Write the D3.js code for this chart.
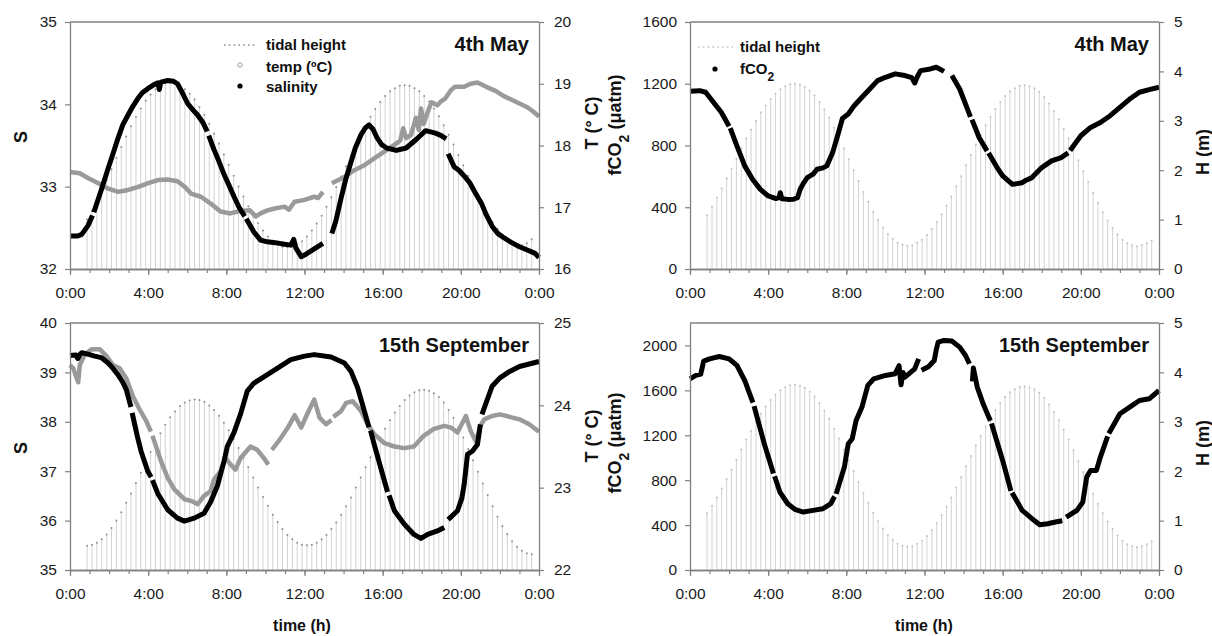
<!DOCTYPE html>
<html>
<head>
<meta charset="utf-8">
<script src="https://cdn.jsdelivr.net/npm/d3@7"></script>
<style>
  body { margin: 0; background: #fff; }
  svg { font-family: "Liberation Sans", Arial, sans-serif; }
</style>
</head>
<body>
<svg id="chart" width="1212" height="636"></svg>
<script>
// ---- time axis ----
const hourMajor = [0, 4, 8, 12, 16, 20, 24];
const hourMinor = d3.range(0, 25);

// tidal height (m), one value every 15 min starting 0:52
const tideStart = 0.875;
const tideStep = 0.25;

const tideMaySal = [1.00,1.18,1.37,1.58,1.80,2.02,2.25,2.47,2.68,2.89,3.08,3.25,3.41,3.53,3.64,3.71,3.76,3.77,
  3.76,3.71,3.64,3.55,3.43,3.28,3.12,2.94,2.74,2.54,2.32,2.11,1.89,1.67,1.47,1.27,1.09,0.93,0.78,0.66,0.57,0.50,0.45,0.44,
  0.45,0.50,0.56,0.66,0.78,0.92,1.08,1.26,1.45,1.66,1.87,2.08,2.29,2.50,2.71,2.90,3.08,3.24,3.38,3.50,3.60,3.66,3.71,3.72,
  3.71,3.66,3.60,3.50,3.39,3.25,3.09,2.91,2.72,2.52,2.31,2.10,1.89,1.68,1.48,1.29,1.11,0.95,0.81,0.70,0.60,0.54,0.49,0.48,
  0.52,0.60];

const tideMayFco2 = [1.09,1.26,1.44,1.63,1.83,2.03,2.23,2.44,2.64,2.82,3.00,3.17,3.31,3.44,3.55,3.64,3.70,3.74,3.75,
  3.73,3.69,3.61,3.51,3.38,3.23,3.06,2.86,2.66,2.44,2.22,2.00,1.78,1.56,1.36,1.16,0.99,0.84,0.71,0.61,0.53,0.49,0.47,
  0.48,0.53,0.59,0.69,0.81,0.95,1.11,1.28,1.47,1.67,1.88,2.10,2.31,2.52,2.72,2.91,3.08,3.24,3.38,3.50,3.60,3.66,3.71,3.72,
  3.70,3.66,3.59,3.48,3.35,3.20,3.03,2.84,2.64,2.42,2.20,1.98,1.76,1.54,1.34,1.15,0.98,0.83,0.70,0.59,0.52,0.48,0.46,
  0.48,0.52,0.57];

const tideSepSal = [0.49,0.51,0.55,0.62,0.72,0.85,1.00,1.17,1.36,1.55,1.76,1.97,2.18,2.39,2.58,2.77,2.94,3.09,3.21,3.32,3.39,3.43,3.45,
  3.44,3.40,3.33,3.24,3.12,2.98,2.83,2.65,2.47,2.27,2.08,1.87,1.67,1.48,1.30,1.12,0.97,0.83,0.71,0.62,0.55,0.51,0.50,
  0.51,0.55,0.62,0.71,0.83,0.96,1.12,1.29,1.47,1.67,1.87,2.08,2.28,2.48,2.68,2.86,3.03,3.19,3.32,3.44,3.53,3.60,3.64,3.65,
  3.63,3.58,3.50,3.39,3.24,3.08,2.89,2.68,2.45,2.22,1.99,1.75,1.52,1.29,1.08,0.89,0.73,0.58,0.47,0.39,0.34,0.32];

const tideSepFco2 = [1.15,1.30,1.47,1.65,1.84,2.03,2.23,2.44,2.64,2.82,3.00,3.17,3.31,3.44,3.55,3.64,3.70,3.74,3.75,
  3.73,3.69,3.61,3.51,3.38,3.23,3.06,2.86,2.66,2.44,2.22,2.00,1.78,1.56,1.36,1.16,0.99,0.84,0.71,0.61,0.53,0.49,0.47,
  0.48,0.53,0.59,0.69,0.81,0.95,1.11,1.28,1.47,1.67,1.88,2.10,2.31,2.52,2.72,2.91,3.08,3.24,3.38,3.50,3.60,3.66,3.71,3.72,
  3.70,3.66,3.59,3.48,3.35,3.20,3.03,2.84,2.64,2.42,2.20,1.98,1.76,1.54,1.34,1.15,0.98,0.83,0.70,0.59,0.52,0.48,0.46,
  0.48,0.52,0.58];

// [hour, value], null = gap in the record
const salinityMay = [[0,32.40],[0.4,32.40],[0.6,32.42],[0.93,32.53],[1.15,32.65],[1.18,null],[1.22,32.69],[1.6,32.96],
  [1.95,33.22],[2.2,33.40],[2.46,33.59],[2.7,33.75],[2.97,33.87],[3.2,33.97],[3.47,34.07],[3.7,34.14],[3.98,34.19],
  [4.3,34.24],[4.5,34.26],[4.57,34.18],[4.65,34.27],[5.0,34.29],[5.3,34.28],[5.5,34.25],[5.75,34.14],[6.02,34.01],
  [6.3,33.93],[6.53,33.87],[6.8,33.78],[7.02,33.67],[7.06,null],[7.1,33.62],[7.37,33.45],[7.6,33.32],[7.88,33.15],
  [8.15,33.01],[8.39,32.88],[8.65,32.75],[8.94,32.64],[8.98,null],[9.02,32.61],[9.41,32.45],[9.75,32.35],[10.1,32.33],
  [10.5,32.32],[10.98,32.30],[11.3,32.29],[11.45,32.36],[11.55,32.26],[11.83,32.15],[12.0,32.17],[12.34,32.22],
  [12.6,32.26],[12.94,32.31],[13.15,null],[13.4,32.43],[13.6,32.58],[13.87,32.86],[14.1,33.08],[14.38,33.30],
  [14.6,33.47],[14.89,33.63],[15.1,33.71],[15.3,33.75],[15.5,33.70],[15.7,33.60],[15.95,33.51],[16.2,33.47],
  [16.7,33.44],[17.2,33.47],[17.7,33.57],[18.2,33.68],[18.7,33.65],[19.0,33.62],[19.25,33.58],[19.3,null],
  [19.35,33.40],[19.66,33.24],[19.9,33.20],[20.17,33.13],[20.45,33.05],[20.68,32.95],[20.9,32.86],[21.05,32.80],
  [21.3,32.66],[21.6,32.52],[21.9,32.43],[22.2,32.38],[22.6,32.32],[23.0,32.27],[23.4,32.23],[23.8,32.19],[24,32.14]];

const tempMay = [[0,17.57],[0.5,17.55],[0.94,17.47],[1.45,17.39],[1.96,17.30],[2.47,17.25],[2.98,17.28],[3.49,17.33],
  [4.0,17.39],[4.5,17.44],[5.0,17.45],[5.5,17.42],[5.88,17.33],[6.2,17.22],[6.7,17.17],[7.2,17.06],[7.7,16.93],
  [8.2,16.90],[8.7,16.94],[9.2,16.95],[9.5,16.85],[9.75,16.90],[10.1,16.95],[10.47,16.98],[10.98,17.01],[11.2,16.96],
  [11.5,17.09],[12.0,17.12],[12.5,17.17],[12.7,17.15],[12.94,17.25],[13.15,null],[13.4,17.39],[14.04,17.49],
  [14.55,17.60],[15.06,17.68],[15.57,17.79],[16.08,17.90],[16.6,18.01],[16.9,18.08],[17.05,18.28],[17.2,18.12],
  [17.45,18.17],[17.7,18.45],[17.85,18.25],[17.96,18.60],[18.1,18.35],[18.3,18.54],[18.5,18.70],[18.8,18.65],
  [19.0,18.72],[19.2,18.76],[19.5,18.90],[19.7,18.95],[20.17,18.95],[20.5,19.00],[20.85,19.02],[21.3,18.95],
  [21.8,18.88],[22.2,18.80],[22.6,18.74],[23.0,18.68],[23.4,18.62],[23.7,18.55],[24,18.47]];

const fco2May = [[0,1151],[0.5,1155],[0.8,1145],[1.2,1080],[1.6,1015],[2.0,925],[2.03,null],[2.06,912],[2.4,798],
  [2.8,668],[3.2,581],[3.6,516],[4.0,473],[4.4,456],[4.55,462],[4.62,494],[4.7,455],[5.0,451],[5.3,452],[5.5,462],
  [5.65,520],[5.8,555],[6.0,592],[6.3,615],[6.5,646],[6.8,655],[7.0,668],[7.3,754],[7.6,884],[7.8,975],[8.1,1004],
  [8.4,1058],[8.8,1112],[9.2,1166],[9.6,1220],[10.0,1242],[10.5,1264],[11.0,1253],[11.35,1240],[11.5,1205],
  [11.65,1250],[11.8,1285],[12.3,1296],[12.6,1307],[13.0,1280],[13.2,null],[13.4,1253],[13.8,1166],[14.2,1036],
  [14.35,985],[14.39,null],[14.43,968],[14.8,850],[15.2,765],[15.24,null],[15.28,752],[15.7,660],[16.0,603],
  [16.5,548],[17.0,559],[17.2,575],[17.5,592],[18.0,657],[18.5,700],[19.0,722],[19.35,752],[19.4,null],
  [19.45,768],[20.0,863],[20.5,917],[21.0,949],[21.5,993],[22.0,1047],[22.5,1101],[23.0,1145],[23.5,1162],[24,1177]];

const salinitySep = [[0,39.34],[0.3,39.35],[0.4,39.28],[0.5,39.36],[0.6,39.40],[1.0,39.36],[1.27,39.33],[1.6,39.30],
  [1.95,39.19],[2.2,39.08],[2.46,38.95],[2.7,38.80],[2.88,38.65],[3.12,38.30],[3.15,null],[3.18,38.18],[3.45,37.70],
  [3.64,37.40],[3.98,37.00],[4.15,36.88],[4.18,null],[4.22,36.82],[4.49,36.55],[5.0,36.22],[5.5,36.05],[5.85,35.99],
  [6.36,36.05],[6.86,36.15],[7.2,36.38],[7.54,36.70],[7.88,37.20],[8.05,37.50],[8.39,37.78],[8.73,38.16],
  [9.07,38.62],[9.4,38.78],[9.96,38.92],[10.64,39.09],[11.3,39.26],[12.0,39.33],[12.5,39.36],[13.36,39.31],
  [14.04,39.19],[14.38,39.02],[14.72,38.69],[15.06,38.22],[15.3,37.89],[15.34,null],[15.38,37.82],[15.57,37.54],
  [15.9,37.07],[16.25,36.58],[16.29,null],[16.33,36.51],[16.6,36.20],[17.1,35.93],[17.6,35.72],[17.96,35.64],
  [18.3,35.72],[18.8,35.79],[19.15,35.86],[19.25,null],[19.35,36.02],[19.83,36.20],[20.05,36.45],[20.17,36.73],
  [20.34,37.34],[20.6,37.41],[20.85,37.54],[21.0,37.95],[21.04,null],[21.08,38.15],[21.6,38.72],[22.0,38.89],
  [22.5,39.02],[23.0,39.12],[23.5,39.17],[24,39.22]];

const tempSep = [[0,24.49],[0.17,24.45],[0.34,24.33],[0.42,24.28],[0.5,24.49],[0.76,24.62],[1.1,24.68],[1.53,24.68],
  [1.86,24.60],[2.2,24.49],[2.54,24.45],[2.88,24.33],[3.22,24.11],[3.56,23.95],[3.9,23.81],[4.14,23.68],[4.18,null],
  [4.22,23.63],[4.66,23.32],[5.0,23.12],[5.34,22.98],[5.85,22.86],[6.19,22.84],[6.53,22.80],[6.86,22.90],[7.2,22.96],
  [7.37,23.10],[7.71,23.20],[7.97,23.36],[8.22,23.28],[8.47,23.22],[8.73,23.36],[9.24,23.50],[9.58,23.46],
  [9.92,23.36],[10.15,23.28],[10.24,null],[10.33,23.46],[10.72,23.58],[11.15,23.73],[11.5,23.88],[11.83,23.73],
  [12.17,23.91],[12.5,24.07],[12.77,23.85],[13.1,23.77],[13.38,23.82],[13.43,null],[13.48,23.86],[13.87,23.93],
  [14.13,24.03],[14.47,24.05],[14.89,23.93],[15.23,23.77],[15.57,23.65],[16.09,23.54],[16.6,23.50],[17.1,23.48],
  [17.6,23.50],[18.1,23.63],[18.6,23.71],[19.15,23.75],[19.5,23.73],[19.83,23.67],[20.26,23.87],[20.5,23.69],
  [20.77,23.56],[21.0,23.75],[21.2,23.83],[21.6,23.87],[22.0,23.89],[22.5,23.86],[23.0,23.83],[23.5,23.77],[24,23.68]];

const fco2Sep = [[0,1703],[0.3,1733],[0.55,1745],[0.7,1860],[1.0,1881],[1.5,1902],[2.0,1881],[2.4,1822],[2.8,1688],
  [3.22,1490],[3.25,null],[3.28,1460],[3.8,1125],[4.27,860],[4.3,null],[4.33,835],[4.6,694],[5.0,590],[5.4,537],
  [5.8,516],[6.3,531],[6.8,546],[7.2,590],[7.4,655],[7.44,null],[7.48,678],[7.9,917],[8.1,1125],[8.3,1169],
  [8.5,1332],[8.8,1451],[9.1,1644],[9.4,1703],[10.0,1733],[10.5,1748],[10.7,1820],[10.8,1650],[10.9,1760],
  [11.0,1718],[11.5,1792],[11.7,1880],[11.78,null],[11.85,1780],[12.2,1810],[12.5,1866],[12.6,1960],[12.7,2030],
  [13.0,2045],[13.4,2040],[13.8,1985],[14.1,1911],[14.3,1837],[14.37,null],[14.45,1680],[14.5,1800],[14.7,1629],
  [15.0,1481],[15.37,1330],[15.4,null],[15.43,1305],[16.0,976],[16.42,705],[16.45,null],[16.48,688],[17.0,531],
  [17.5,457],[17.9,404],[18.3,412],[18.7,427],[19.05,438],[19.15,null],[19.25,470],[19.8,531],[20.1,605],[20.3,828],
  [20.5,887],[20.8,887],[21.0,1006],[21.37,1190],[21.4,null],[21.43,1215],[22.0,1392],[22.5,1451],[23.0,1510],
  [23.5,1525],[24,1599]];

const axisGrey = "#808080";
const svg = d3.select("#chart");

const panels = [
  { left: 70, right: 539, top: 22, bottom: 269,
    leftDomain: [32, 35], leftTicks: [32, 33, 34, 35],
    rightDomain: [16, 20], rightTicks: [16, 17, 18, 19, 20],
    tide: tideMaySal, dotColor: "#8f8f8f",
    series: [{ data: tempMay, axis: "right", color: "#9a9a9a", width: 4.5 },
             { data: salinityMay, axis: "left", color: "#000", width: 5 }],
    title: "4th May", leftTitle: ["S"], leftTitleX: 21, leftTitleY: 137,
    rightTitle: "T (° C)", rightTitleX: 592, rightTitleY: 123, timeLabel: false },
  { left: 690, right: 1159, top: 22, bottom: 269,
    leftDomain: [0, 1600], leftTicks: [0, 400, 800, 1200, 1600],
    rightDomain: [0, 5], rightTicks: [0, 1, 2, 3, 4, 5],
    tide: tideMayFco2, dotColor: "#c2c2c2",
    series: [{ data: fco2May, axis: "left", color: "#000", width: 5 }],
    title: "4th May", leftTitle: "fco2", leftTitleX: 615, leftTitleY: 125,
    rightTitle: "H (m)", rightTitleX: 1203, rightTitleY: 152, timeLabel: false },
  { left: 70, right: 539, top: 323, bottom: 570,
    leftDomain: [35, 40], leftTicks: [35, 36, 37, 38, 39, 40],
    rightDomain: [22, 25], rightTicks: [22, 23, 24, 25],
    tide: tideSepSal, dotColor: "#8f8f8f",
    series: [{ data: tempSep, axis: "right", color: "#9a9a9a", width: 4.5 },
             { data: salinitySep, axis: "left", color: "#000", width: 5 }],
    title: "15th September", leftTitle: ["S"], leftTitleX: 21, leftTitleY: 448,
    rightTitle: "T (° C)", rightTitleX: 592, rightTitleY: 436, timeLabel: true, timeX: 302 },
  { left: 690, right: 1159, top: 323, bottom: 570,
    leftDomain: [0, 2200], leftTicks: [0, 400, 800, 1200, 1600, 2000],
    rightDomain: [0, 5], rightTicks: [0, 1, 2, 3, 4, 5],
    tide: tideSepFco2, dotColor: "#c2c2c2",
    series: [{ data: fco2Sep, axis: "left", color: "#000", width: 5 }],
    title: "15th September", leftTitle: "fco2", leftTitleX: 615, leftTitleY: 443,
    rightTitle: "H (m)", rightTitleX: 1203, rightTitleY: 443, timeLabel: true, timeX: 924 }
];

function styleAxis(sel) {
  sel.attr("font-size", 15.5).attr("font-family", '"Liberation Sans", Arial, sans-serif');
  sel.selectAll("path.domain").attr("stroke", axisGrey).attr("stroke-width", 1.3);
  sel.selectAll(".tick line").attr("stroke", axisGrey).attr("stroke-width", 1.2);
  sel.selectAll(".tick text").attr("fill", "#1a1a1a");
}

function makePanel(p) {
  const x = d3.scaleLinear().domain([0, 24]).range([p.left, p.right]);
  const yL = d3.scaleLinear().domain(p.leftDomain).range([p.bottom, p.top]);
  const yR = d3.scaleLinear().domain(p.rightDomain).range([p.bottom, p.top]);
  // tidal height always on a 0-5 m scale (shown on the right only for fCO2)
  const yH = d3.scaleLinear().domain([0, 5]).range([p.bottom, p.top]);

  const g = svg.append("g");

  const tide = p.tide.map((h, i) => [tideStart + i * tideStep, h]);
  g.append("g").selectAll("line").data(tide).join("line")
    .attr("x1", d => x(d[0])).attr("x2", d => x(d[0]))
    .attr("y1", d => yH(d[1])).attr("y2", p.bottom)
    .attr("stroke", "#d2d2d2").attr("stroke-width", 1);
  g.append("g").selectAll("circle").data(tide).join("circle")
    .attr("cx", d => x(d[0])).attr("cy", d => yH(d[1]))
    .attr("r", 1).attr("fill", p.dotColor);

  p.series.forEach(s => {
    const yScale = s.axis === "right" ? yR : yL;
    const line = d3.line()
      .defined(d => d[1] !== null)
      .x(d => x(d[0]))
      .y(d => yScale(d[1]));
    g.append("path").datum(s.data)
      .attr("d", line)
      .attr("fill", "none")
      .attr("stroke", s.color)
      .attr("stroke-width", s.width)
      .attr("stroke-linejoin", "round");
  });

  // frame top
  g.append("line")
    .attr("x1", p.left).attr("x2", p.right)
    .attr("y1", p.top).attr("y2", p.top)
    .attr("stroke", axisGrey).attr("stroke-width", 1.3);

  g.append("g")
    .attr("transform", `translate(${p.left},0)`)
    .call(d3.axisLeft(yL).tickValues(p.leftTicks).tickSize(5).tickSizeOuter(0).tickPadding(8).tickFormat(d3.format("d")))
    .call(styleAxis);

  g.append("g")
    .attr("transform", `translate(${p.right},0)`)
    .call(d3.axisRight(yR).tickValues(p.rightTicks).tickSize(5).tickSizeOuter(0).tickPadding(10).tickFormat(d3.format("d")))
    .call(styleAxis);

  g.append("g")
    .attr("transform", `translate(0,${p.bottom})`)
    .call(d3.axisBottom(x).tickValues(hourMinor).tickSize(4).tickSizeOuter(0).tickFormat(""))
    .call(styleAxis);

  g.append("g")
    .attr("transform", `translate(0,${p.bottom})`)
    .call(d3.axisBottom(x).tickValues(hourMajor).tickSize(6).tickSizeOuter(0).tickPadding(12)
      .tickFormat(d => (d % 24) + ":00"))
    .call(styleAxis);

  // date title
  g.append("text")
    .attr("x", p.right - 10).attr("y", p.top + 29)
    .attr("text-anchor", "end")
    .attr("font-size", 20).attr("font-weight", "bold")
    .attr("fill", "#111")
    .text(p.title);

  // left axis title
  const lt = g.append("text")
    .attr("transform", `translate(${p.leftTitleX},${p.leftTitleY}) rotate(-90)`)
    .attr("text-anchor", "middle").attr("dy", "0.35em")
    .attr("font-size", 18).attr("font-weight", "bold").attr("fill", "#111");
  if (p.leftTitle === "fco2") {
    lt.append("tspan").text("fCO");
    lt.append("tspan").attr("baseline-shift", "sub").attr("font-size", 14).text("2");
    lt.append("tspan").text(" (μatm)");
  } else {
    lt.text(p.leftTitle[0]);
  }

  g.append("text")
    .attr("transform", `translate(${p.rightTitleX},${p.rightTitleY}) rotate(-90)`)
    .attr("text-anchor", "middle").attr("dy", "0.35em")
    .attr("font-size", 18).attr("font-weight", "bold").attr("fill", "#111")
    .text(p.rightTitle);

  if (p.timeLabel) {
    g.append("text")
      .attr("x", p.timeX).attr("y", 631)
      .attr("text-anchor", "middle")
      .attr("font-size", 16).attr("font-weight", "bold").attr("fill", "#111")
      .text("time (h)");
  }
}

panels.forEach(makePanel);

// legends
function legendText(x, y, parts) {
  const t = svg.append("text").attr("x", x).attr("y", y)
    .attr("font-size", 15).attr("font-weight", "bold").attr("fill", "#111");
  parts.forEach(pt => {
    const ts = t.append("tspan").text(pt.text);
    if (pt.sub) ts.attr("baseline-shift", "sub").attr("font-size", 12);
  });
}

// top-left legend
svg.append("line").attr("x1", 224).attr("x2", 256).attr("y1", 45).attr("y2", 45)
  .attr("stroke", "#8f8f8f").attr("stroke-width", 1.6).attr("stroke-dasharray", "1.6,3.2");
legendText(266, 50, [{ text: "tidal height" }]);
svg.append("circle").attr("cx", 240).attr("cy", 65).attr("r", 2.2)
  .attr("fill", "#fff").attr("stroke", "#999").attr("stroke-width", 1);
legendText(266, 72, [{ text: "temp (ºC)" }]);
svg.append("circle").attr("cx", 240).attr("cy", 86).attr("r", 2.6).attr("fill", "#000");
legendText(266, 92, [{ text: "salinity" }]);

// top-right legend
svg.append("line").attr("x1", 698).attr("x2", 733).attr("y1", 47).attr("y2", 47)
  .attr("stroke", "#c2c2c2").attr("stroke-width", 1.6).attr("stroke-dasharray", "1.6,3.2");
legendText(740, 52, [{ text: "tidal height" }]);
svg.append("circle").attr("cx", 715).attr("cy", 69).attr("r", 2.6).attr("fill", "#000");
legendText(740, 74, [{ text: "fCO" }, { text: "2", sub: true }]);
</script>
</body>
</html>
